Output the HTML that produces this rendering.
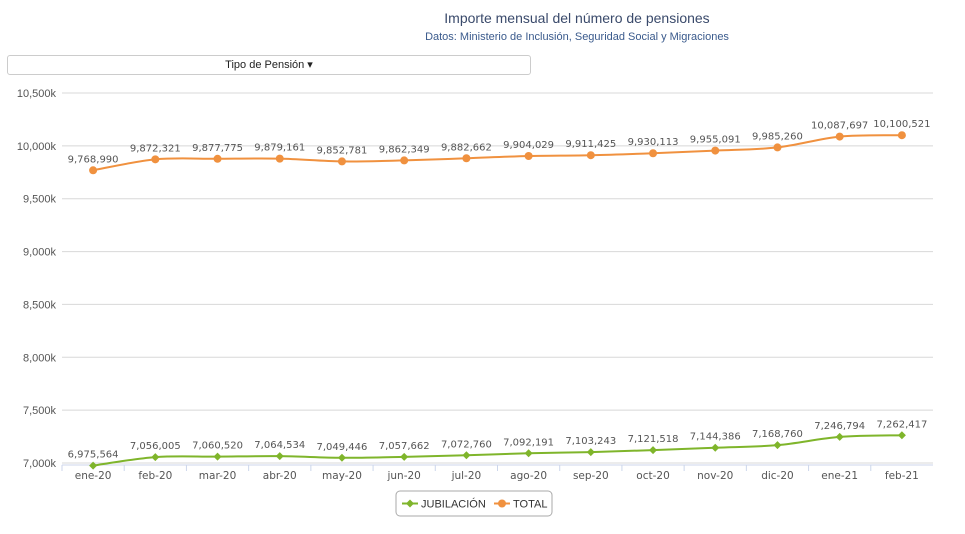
<!DOCTYPE html>
<html><head><meta charset="utf-8">
<style>
body{margin:0;background:#fff;font-family:"Liberation Sans","DejaVu Sans",sans-serif;}
#wrap{position:relative;width:965px;height:534px;overflow:hidden;}
.title{position:absolute;left:0;width:1154px;top:10px;text-align:center;font-size:14px;color:#3a4a6b;}
.sub{position:absolute;left:0;width:1154px;top:31px;text-align:center;font-size:11px;color:#3a5a8c;}
.dd{position:absolute;left:7px;top:55px;width:522px;height:18px;border:1px solid #ccc;border-radius:3px;font-size:11px;text-align:center;line-height:18px;color:#222;}
</style></head><body>
<div id="wrap">
<div class="title">Importe mensual del número de pensiones</div>
<div class="sub">Datos: Ministerio de Inclusión, Seguridad Social y Migraciones</div>
<div class="dd">Tipo de Pensión ▾</div>
<svg id="svg" width="965" height="534" style="position:absolute;left:0;top:0"></svg>
</div>
<script>
const categories=["ene-20","feb-20","mar-20","abr-20","may-20","jun-20","jul-20","ago-20","sep-20","oct-20","nov-20","dic-20","ene-21","feb-21"];
const totalValues=[9768990,9872321,9877775,9879161,9852781,9862349,9882662,9904029,9911425,9930113,9955091,9985260,10087697,10100521];
const jubilacionValues=[6975564,7056005,7060520,7064534,7049446,7057662,7072760,7092191,7103243,7121518,7144386,7168760,7246794,7262417];
const yTicks=[7000000,7500000,8000000,8500000,9000000,9500000,10000000,10500000];
const yTickLabels=["7,000k","7,500k","8,000k","8,500k","9,000k","9,500k","10,000k","10,500k"];

const NS="http://www.w3.org/2000/svg";
const svg=document.getElementById('svg');
const X0=62,X1=933,Y0=463,Y1=93,YMIN=7000000,YMAX=10500000;
const band=(X1-X0)/categories.length;
function xs(i){return X0+band*(i+0.5);}
function ys(v){return Y0-(v-YMIN)/(YMAX-YMIN)*(Y0-Y1);}
function mk(t,a,p){const e=document.createElementNS(NS,t);for(const k in a)e.setAttribute(k,a[k]);(p||svg).appendChild(e);return e;}
const fmt=v=>v.toLocaleString('en-US');

yTicks.forEach((t,i)=>{
  const g=mk('line',{x1:X0,x2:X1,y1:ys(t),y2:ys(t),stroke:'#d8d8d8','stroke-width':1});
  
  
  const l=mk('text',{x:56,y:ys(t)+4,'text-anchor':'end','font-size':11,fill:'#555'});
  l.textContent=yTickLabels[i];
  
  
});
const ax=mk('line',{x1:X0,x2:X1,y1:465,y2:465,stroke:'#ccd6eb','stroke-width':1});


categories.forEach((c,i)=>{
  const tk=mk('line',{x1:X0+band*i,x2:X0+band*i,y1:465,y2:471,stroke:'#ccd6eb'});
  
  
  const t=mk('text',{x:xs(i),y:479,'text-anchor':'middle','font-size':10.5,fill:'#555','font-family':'"DejaVu Sans",sans-serif'});
  t.textContent=c;
  
  
});

function path(vals){
  const p=vals.map((v,i)=>[xs(i),ys(v)]);
  let d='M'+p[0][0]+','+p[0][1];
  for(let i=0;i<p.length-1;i++){
    const p0=p[Math.max(0,i-1)],p1=p[i],p2=p[i+1],p3=p[Math.min(p.length-1,i+2)];
    const c1=[p1[0]+(p2[0]-p0[0])/6,p1[1]+(p2[1]-p0[1])/6];
    const c2=[p2[0]-(p3[0]-p1[0])/6,p2[1]-(p3[1]-p1[1])/6];
    d+=` C${c1[0]},${c1[1]} ${c2[0]},${c2[1]} ${p2[0]},${p2[1]}`;
  }
  return d;
}
function series(vals,color,name,diamond){
  const ln=mk('path',{d:path(vals),fill:'none',stroke:color,'stroke-width':2});
  
  
  vals.forEach((v,i)=>{
    const x=xs(i),y=ys(v);
    let m;
    if(diamond) m=mk('path',{d:`M${x},${y-4} L${x+4},${y} L${x},${y+4} L${x-4},${y} Z`,fill:color});
    else m=mk('circle',{cx:x,cy:y,r:4,fill:color});
    
    
    const t=mk('text',{x:x,y:y-8,'text-anchor':'middle',fill:'#555','font-family':'"DejaVu Sans",sans-serif'});
    t.setAttribute('style','font-size:10px');
    t.textContent=fmt(v);
    
    
  });
}
series(totalValues,'#f0913f','total',false);
series(jubilacionValues,'#7fb52b','jubilacion',true);

const lg=mk('g',{});


mk('rect',{x:396,y:491,width:156,height:25,rx:4,fill:'#fff',stroke:'#aaa'},lg);
const e1=mk('g',{},lg);


mk('line',{x1:402,x2:418,y1:503.5,y2:503.5,stroke:'#7fb52b','stroke-width':2},e1);
mk('path',{d:'M410,499.5 L414,503.5 L410,507.5 L406,503.5 Z',fill:'#7fb52b'},e1);
const t1=mk('text',{x:421,y:507.5,'font-size':11,fill:'#333'},e1);t1.textContent='JUBILACIÓN';
const e2=mk('g',{},lg);


mk('line',{x1:494,x2:510,y1:503.5,y2:503.5,stroke:'#f0913f','stroke-width':2},e2);
mk('circle',{cx:502,cy:503.5,r:4,fill:'#f0913f'},e2);
const t2=mk('text',{x:513,y:507.5,'font-size':11,fill:'#333'},e2);t2.textContent='TOTAL';
</script>
</body></html>
